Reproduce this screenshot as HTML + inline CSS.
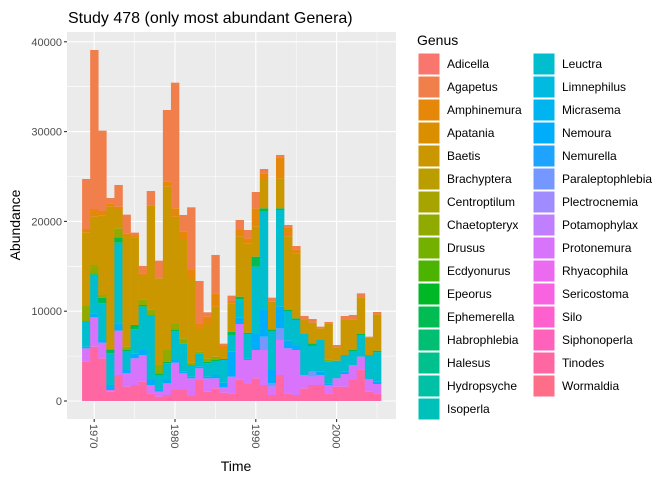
<!DOCTYPE html>
<html><head><meta charset="utf-8"><style>
body{margin:0;background:#fff;}
svg text{font-family:"Liberation Sans",Arial,sans-serif;}
</style></head><body>
<svg id="chart" width="672" height="480" viewBox="0 0 672 480" xmlns="http://www.w3.org/2000/svg">
<rect x="0" y="0" width="672" height="480" fill="#fff"/>
<text x="68" y="23" font-size="16" fill="#000">Study 478 (only most abundant Genera)</text>
<rect x="67" y="32" width="329" height="387" fill="#EBEBEB"/>
<g id="grid"></g>
<g id="bars"></g>
<g id="axes"></g>
<text x="236" y="471" font-size="14" text-anchor="middle" fill="#000">Time</text>
<text transform="translate(20,225) rotate(-90)" font-size="14" text-anchor="middle" fill="#000">Abundance</text>
<g id="legend"></g>
</svg>
<script>
const years=[];for(let y=1969;y<=2005;y++)years.push(y);
const tinodes=[4380,6050,4751,1039,2895,1596,1782,2153,854,483,668,1225,1225,557,2339,1039,1411,928,854,2413,1893,2524,1782,668,2895,854,668,1411,1782,1782,854,1596,1596,2339,3526,1039,854];
const protonemura=[1485,3267,1745,186,4937,1485,2970,2970,928,557,1299,3044,1856,1967,1299,1485,1114,594,1856,6162,2673,3155,3898,928,3898,5011,5011,1485,928,1114,928,928,1411,1670,1411,1373,1039];
const paraleptophlebia=[0,0,0,0,0,0,0,0,0,0,0,0,0,0,0,0,0,0,0,0,0,0,1485,371,1299,0,0,0,557,0,0,0,0,0,0,0,0];
const nemoura=[186,445,297,557,817,371,557,557,557,186,371,297,186,186,186,186,371,520,2784,742,186,1782,2970,1485,2413,854,445,0,0,371,186,0,260,0,0,0,260];
const leuctra=[2858,4306,4083,3526,8983,2042,2673,4826,7238,1670,1856,3155,3155,1299,1485,1485,1485,2524,1856,2004,2710,7498,10950,4269,10765,3229,2895,4640,2858,3526,2413,1967,1856,1485,2339,2710,3266];
const ephemerella=[0,148,631,445,594,260,483,186,0,186,186,186,0,0,0,186,186,111,371,297,148,1114,371,260,186,186,186,0,297,0,0,0,0,186,186,0,186];
const chaetopteryx=[1670,928,297,0,1002,297,0,631,631,928,1299,668,557,260,186,371,371,0,0,0,0,0,0,0,0,0,0,0,0,0,260,0,0,0,0,0,0];
const baetis=[8204,5382,8835,15887,2153,12324,9725,2710,11544,9651,18189,11953,10950,9206,2413,3823,5568,1114,3155,6682,9948,3341,3155,3081,3341,8166,7238,1485,2301,1299,4009,1485,3898,3415,4083,1930,4046];
const amphinemura=[371,854,520,371,260,297,186,186,0,0,557,928,928,1114,668,817,1485,334,260,742,557,2042,742,0,2339,1039,445,0,0,0,0,0,0,0,0,0,0];
const agapetus=[5568,17706,8946,594,2413,2079,371,817,1633,1967,7981,13994,1856,6979,4788,483,4269,260,594,1114,928,1819,483,445,260,260,371,445,408,186,148,260,445,483,445,111,260];
const yTicks=[0,10000,20000,30000,40000];
const xTicks=[1970,1980,1990,2000];
const genera=["Adicella","Agapetus","Amphinemura","Apatania","Baetis","Brachyptera","Centroptilum","Chaetopteryx","Drusus","Ecdyonurus","Epeorus","Ephemerella","Habrophlebia","Halesus","Hydropsyche","Isoperla","Leuctra","Limnephilus","Micrasema","Nemoura","Nemurella","Paraleptophlebia","Plectrocnemia","Potamophylax","Protonemura","Rhyacophila","Sericostoma","Silo","Siphonoperla","Tinodes","Wormaldia"];
function hcl(h,c,l){const hr=h*Math.PI/180;const Y=l>8?Math.pow((l+16)/116,3):l/903.3;const un=0.1978398,vn=0.4683363;const u=c*Math.cos(hr),v=c*Math.sin(hr);const up=u/(13*l)+un,vp=v/(13*l)+vn;const X=Y*9*up/(4*vp),Z=Y*(12-3*up-20*vp)/(4*vp);
let r=3.2406*X-1.5372*Y-0.4986*Z,g=-0.9689*X+1.8758*Y+0.0415*Z,b=0.0557*X-0.2040*Y+1.0570*Z;
const gm=x=>{x=x<=0.0031308?12.92*x:1.055*Math.pow(x,1/2.4)-0.055;return Math.round(Math.max(0,Math.min(1,x))*255);};return `rgb(${gm(r)},${gm(g)},${gm(b)})`;}
const n=genera.length;const colors={};genera.forEach((g,i)=>{colors[g]=hcl(15+360*i/n,100,65);});
const NS="http://www.w3.org/2000/svg";
const xs=yr=>94.2+(yr-1970)*8.08;
const ys=v=>401-v*0.00898;
const L=67,R=396,T=32,B=419;
function mk(tag,attrs,parent){const e=document.createElementNS(NS,tag);for(const k in attrs)e.setAttribute(k,attrs[k]);parent.appendChild(e);return e;}
const grid=document.getElementById('grid');
[5000,15000,25000,35000].forEach(v=>{const e=mk('line',{x1:L,x2:R,y1:ys(v),y2:ys(v),stroke:'#fff','stroke-width':0.55},grid);});
[1975,1985,1995,2005].forEach(v=>{const e=mk('line',{x1:xs(v),x2:xs(v),y1:T,y2:B,stroke:'#fff','stroke-width':0.55},grid);});
yTicks.forEach(v=>{const e=mk('line',{x1:L,x2:R,y1:ys(v),y2:ys(v),stroke:'#fff','stroke-width':1.1},grid);});
xTicks.forEach(v=>{const e=mk('line',{x1:xs(v),x2:xs(v),y1:T,y2:B,stroke:'#fff','stroke-width':1.1},grid);});
const stack=[["Tinodes",tinodes],["Protonemura",protonemura],["Paraleptophlebia",paraleptophlebia],["Nemoura",nemoura],["Leuctra",leuctra],["Ephemerella",ephemerella],["Chaetopteryx",chaetopteryx],["Baetis",baetis],["Amphinemura",amphinemura],["Agapetus",agapetus]];
const bars=document.getElementById('bars');
years.forEach((yr,i)=>{let cum=0;stack.forEach(([g,arr])=>{const v=arr[i];if(v>0){const y1=ys(cum+v),y0=ys(cum);const e=mk('rect',{x:xs(yr-0.5),y:y1,width:8.08+0.3,height:y0-y1,fill:colors[g]},bars);}cum+=v;});});
const axes=document.getElementById('axes');
yTicks.forEach(v=>{const t=mk('line',{x1:L-3,x2:L,y1:ys(v),y2:ys(v),stroke:'#333','stroke-width':1.1},axes);
const e=mk('text',{x:L-5,y:ys(v)+4,'font-size':11,'text-anchor':'end',fill:'#4D4D4D'},axes);e.textContent=String(v);});
xTicks.forEach(v=>{const t=mk('line',{x1:xs(v),x2:xs(v),y1:B,y2:B+3,stroke:'#333','stroke-width':1.1},axes);
const e=mk('text',{transform:`translate(${xs(v)-4},${B+5}) rotate(90)`,'font-size':11,'text-anchor':'start',fill:'#4D4D4D'},axes);e.textContent=String(v);});
const lg=document.getElementById('legend');
const lt=mk('text',{x:417,y:45,'font-size':14,fill:'#000'},lg);lt.textContent='Genus';
genera.forEach((g,i)=>{const col=i<16?0:1,row=i<16?i:i-16;const bx=col?533:418,by=53+row*23;
const grp=mk('g',{},lg);
mk('rect',{x:bx,y:by,width:22,height:22,fill:colors[g],stroke:'#fff','stroke-width':1},grp);
const t=mk('text',{x:bx+29,y:by+15,'font-size':12,fill:'#000'},grp);t.textContent=g;});
</script>
</body></html>
